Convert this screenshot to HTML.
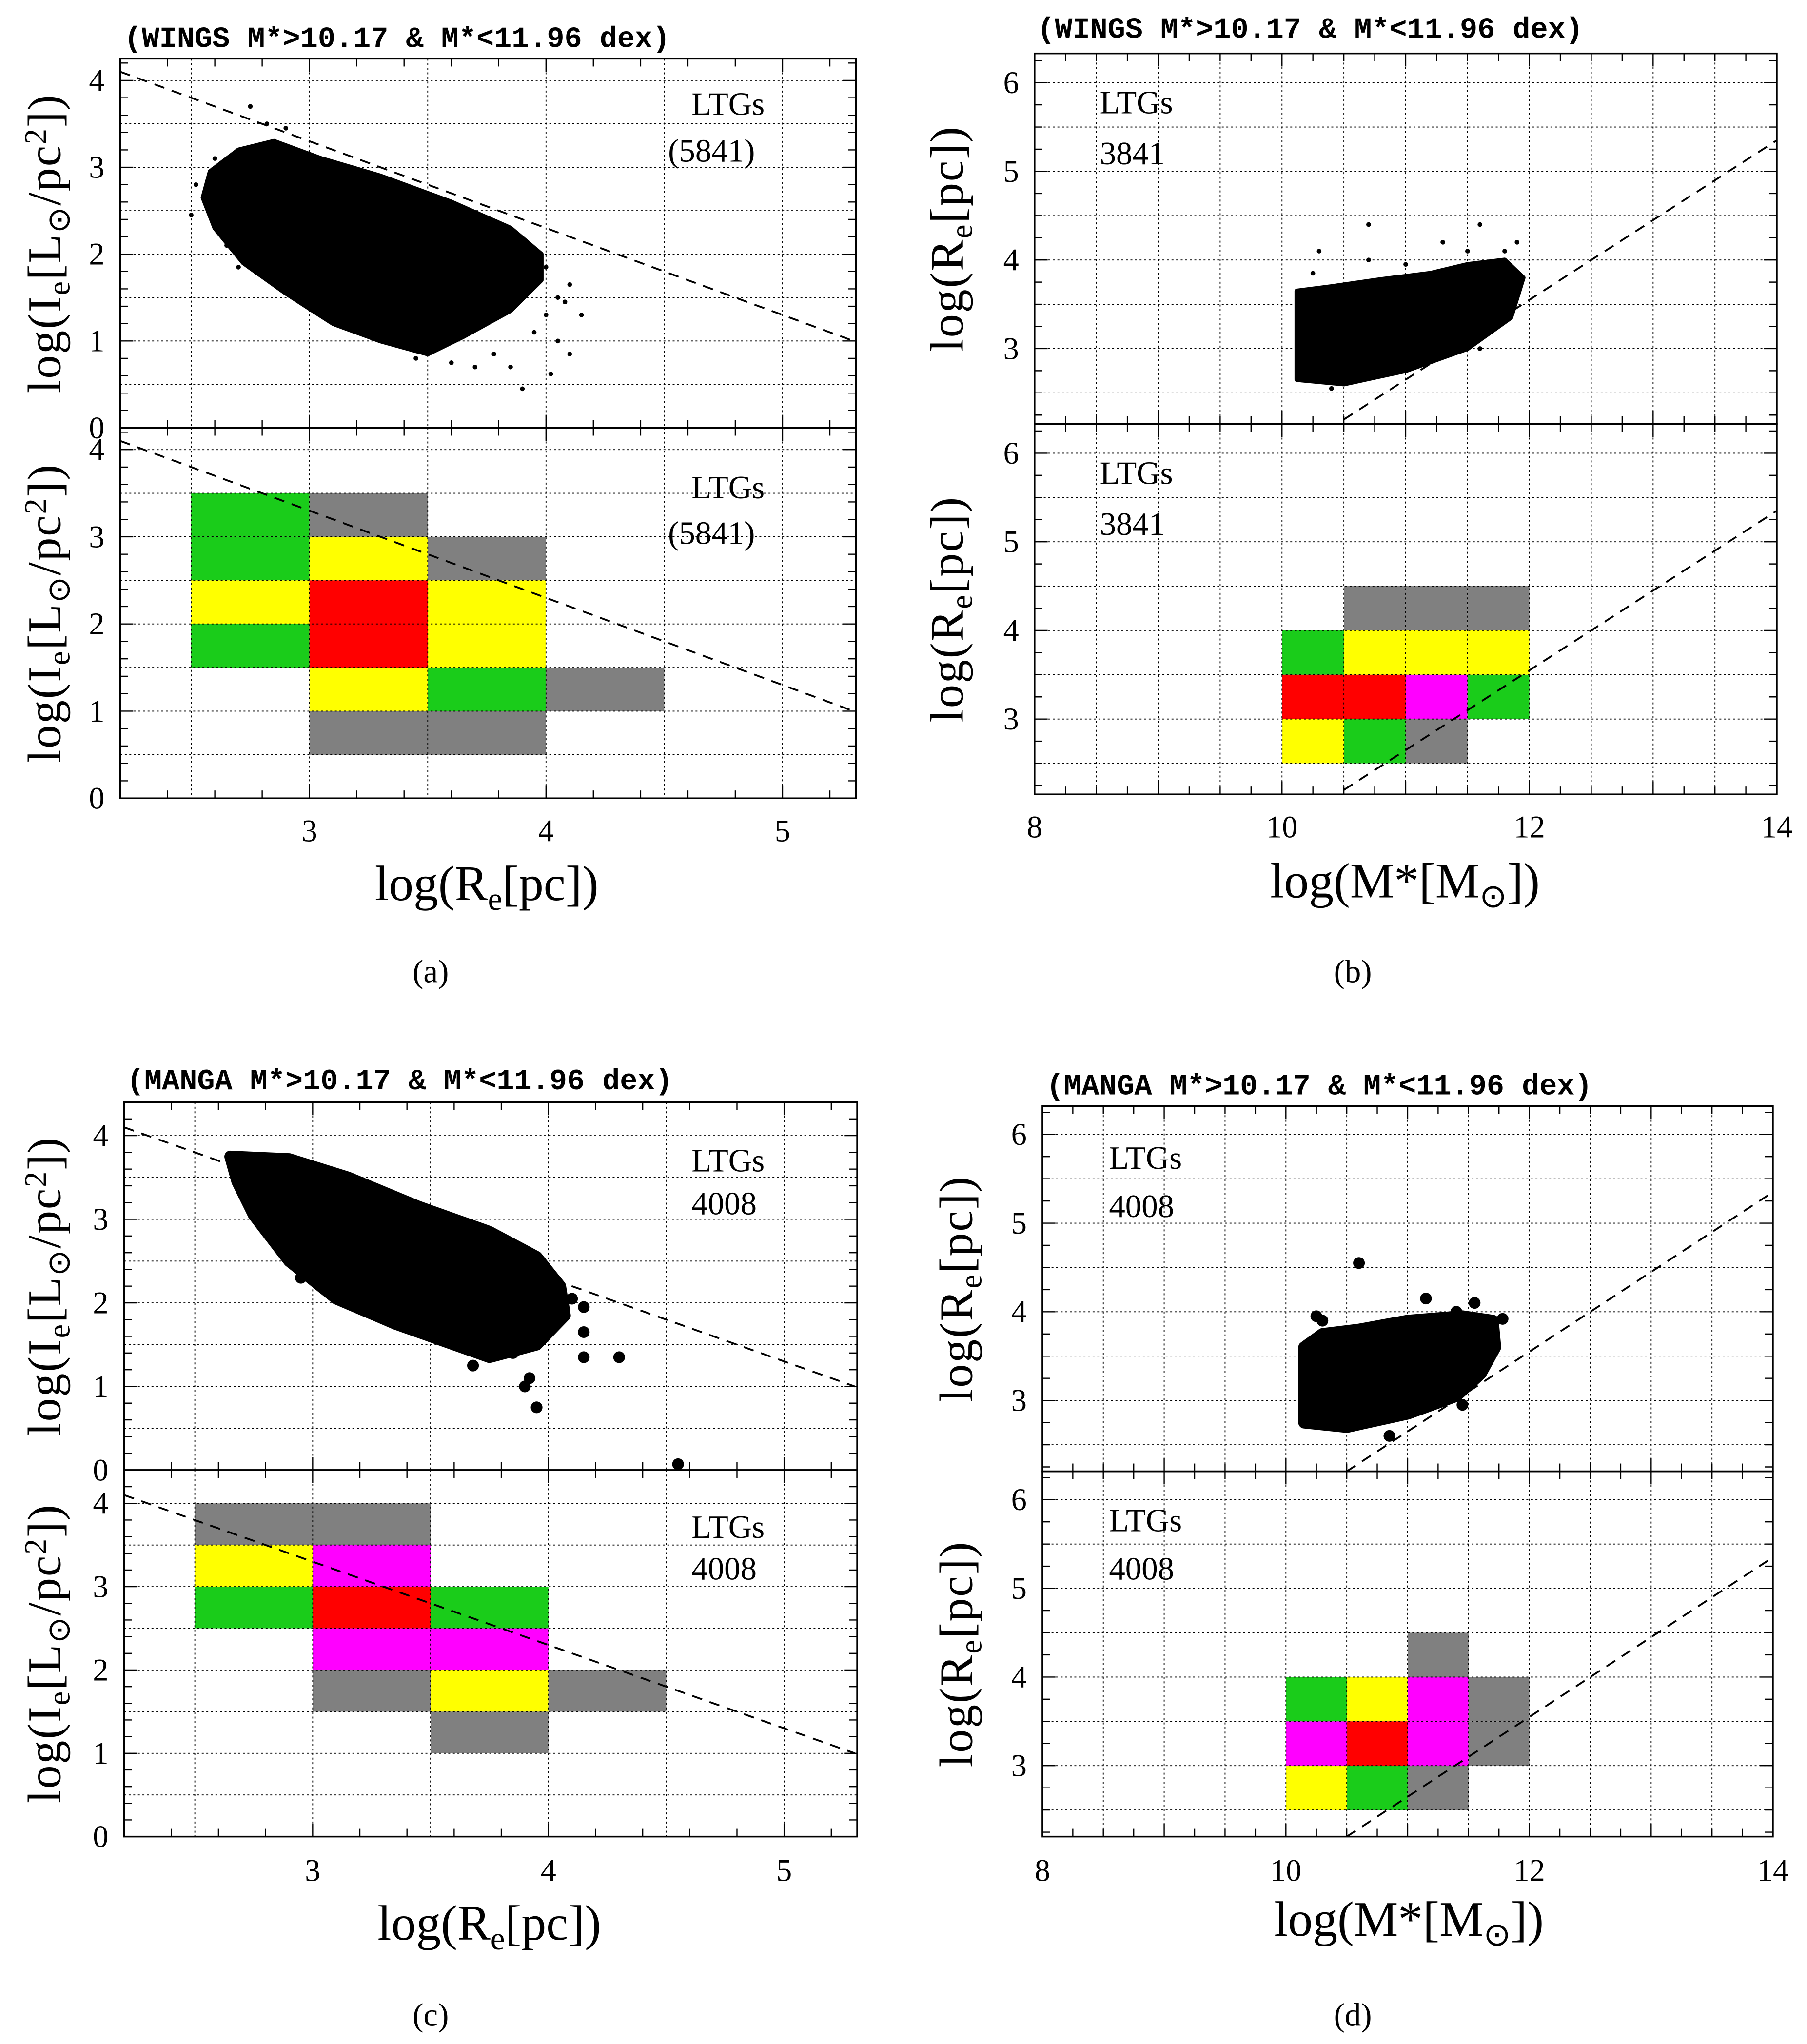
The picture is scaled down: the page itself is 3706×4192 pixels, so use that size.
<!DOCTYPE html>
<html><head><meta charset="utf-8"><style>
html,body{margin:0;padding:0;background:#fff;}
svg{display:block;}
text{font-family:"Liberation Serif",serif;fill:#000;}
.mono{font-family:"Liberation Mono",monospace;font-weight:bold;}
</style></head><body>
<svg id="fig" xmlns="http://www.w3.org/2000/svg" width="3706" height="4192" viewBox="0 0 1385 1567"></svg>
<script>
// ---------- data ----------
const binsA = [[2.5,3.0,'g'],[2.5,2.5,'g'],[2.5,2.0,'y'],[2.5,1.5,'g'],
  [3.0,3.0,'k'],[3.0,2.5,'y'],[3.0,2.0,'r'],[3.0,1.5,'r'],[3.0,1.0,'y'],[3.0,0.5,'k'],
  [3.5,2.5,'k'],[3.5,2.0,'y'],[3.5,1.5,'y'],[3.5,1.0,'g'],[3.5,0.5,'k'],[4.0,1.0,'k']];
const binsB = [[10.0,3.5,'g'],[10.0,3.0,'r'],[10.0,2.5,'y'],
  [10.5,4.0,'k'],[10.5,3.5,'y'],[10.5,3.0,'r'],[10.5,2.5,'g'],
  [11.0,4.0,'k'],[11.0,3.5,'y'],[11.0,3.0,'m'],[11.0,2.5,'k'],
  [11.5,4.0,'k'],[11.5,3.5,'y'],[11.5,3.0,'g']];
const binsC = [[2.5,3.5,'k'],[2.5,3.0,'y'],[2.5,2.5,'g'],
  [3.0,3.5,'k'],[3.0,3.0,'m'],[3.0,2.5,'r'],[3.0,2.0,'m'],[3.0,1.5,'k'],
  [3.5,2.5,'g'],[3.5,2.0,'m'],[3.5,1.5,'y'],[3.5,1.0,'k'],[4.0,1.5,'k']];
const binsD = [[10.0,3.5,'g'],[10.0,3.0,'m'],[10.0,2.5,'y'],
  [10.5,3.5,'y'],[10.5,3.0,'r'],[10.5,2.5,'g'],
  [11.0,4.0,'k'],[11.0,3.5,'m'],[11.0,3.0,'m'],[11.0,2.5,'k'],
  [11.5,3.5,'k'],[11.5,3.0,'k']];
const cloudA = [[2.58,2.95],[2.7,3.2],[2.85,3.3],[3.05,3.1],[3.3,2.9],[3.6,2.6],[3.85,2.3],[3.98,2.0],[3.98,1.7],[3.85,1.35],[3.65,1.05],[3.5,0.85],[3.3,1.0],[3.1,1.2],[2.9,1.55],[2.72,1.9],[2.6,2.3],[2.55,2.65]];
const outA = [[2.5,2.45],[2.52,2.8],[2.75,3.7],[2.82,3.5],[2.9,3.45],[4.1,1.65],[4.15,1.3],[4.05,1.0],[3.9,0.45],[4.1,0.85],[4.02,0.62],[3.85,0.7],[3.7,0.7],[4.0,1.3],[4.05,1.5],[3.95,1.1],[4.08,1.45],[3.78,0.85],[3.6,0.75],[3.45,0.8],[3.92,1.55],[4.0,1.85],[3.9,2.05],[3.7,2.35],[2.65,2.1],[2.7,1.85],[2.6,3.1],[2.62,2.55]];
const cloudB = [[10.12,2.65],[10.5,2.6],[11.0,2.75],[11.5,3.0],[11.85,3.35],[11.95,3.8],[11.8,4.0],[11.5,3.95],[11.2,3.85],[10.8,3.78],[10.4,3.7],[10.12,3.65]];
const outB = [[10.7,4.4],[11.6,4.4],[10.3,4.1],[10.7,4.0],[11.3,4.2],[11.9,4.2],[11.3,3.1],[10.8,2.7],[10.4,2.55],[11.5,4.1],[11.8,4.1],[10.25,3.85],[11.0,3.95],[11.6,3.0],[11.2,2.85]];
const cloudC = [[2.65,3.75],[2.9,3.72],[3.15,3.5],[3.45,3.15],[3.75,2.85],[3.95,2.55],[4.05,2.2],[4.07,1.85],[3.95,1.5],[3.75,1.35],[3.55,1.55],[3.35,1.75],[3.1,2.05],[2.9,2.5],[2.75,3.05],[2.68,3.45]];
const outC = [[4.3,1.35],[4.15,1.35],[4.15,1.65],[3.95,0.75],[3.92,1.1],[3.9,1.0],[4.55,0.07],[2.95,2.3],[3.22,1.95],[3.68,1.25],[3.78,2.8],[4.1,2.05],[4.15,1.95],[3.5,1.6],[3.85,1.4]];
const cloudD = [[10.15,2.75],[10.5,2.7],[11.0,2.85],[11.4,3.05],[11.6,3.3],[11.72,3.6],[11.7,3.9],[11.45,3.95],[11.0,3.9],[10.6,3.8],[10.3,3.75],[10.15,3.6]];
const outD = [[10.6,4.55],[10.85,2.6],[11.15,4.15],[11.55,4.1],[11.78,3.92],[10.25,3.95],[11.65,3.65],[11.45,2.95],[10.3,3.9],[11.4,4.0]];
const lineIe = [[2.2,4.1],[5.3,1.0]];
const lineRe = [[10.5,2.2],[14.0,5.35]];
const xTicksR = [3,4,5];
const xTicksM = [8,10,12,14];
const yTicksI = [0,1,2,3,4];
const yTicksR = [3,4,5,6];

const COL = {g:'#1acc1a',y:'#ffff00',r:'#ff0000',k:'#808080',m:'#ff00ff'};
const svg = document.getElementById('fig');
const NS = 'http://www.w3.org/2000/svg';
function mk(tag, attrs, parent){const e=document.createElementNS(NS,tag);for(const k in attrs)e.setAttribute(k,attrs[k]);(parent||svg).appendChild(e);return e;}

function axis(p){
  return {X:v=>p.l+(v-p.x0)/(p.x1-p.x0)*(p.r-p.l), Y:v=>p.b-(v-p.y0)/(p.y1-p.y0)*(p.b-p.t)};
}
function sub(p, name, opt){
  const g = mk('g',{});
  
  
  const A = axis(p);
  const clip = 'c'+name;
  const cp = mk('clipPath',{id:clip},g); mk('rect',{x:p.l,y:p.t,width:p.r-p.l,height:p.b-p.t},cp);
  const inner = mk('g',{'clip-path':'url(#'+clip+')'},g);
  if(opt.bins) opt.bins.forEach(b=>{
    const r = mk('rect',{x:A.X(b[0]),y:A.Y(b[1]+0.5),width:A.X(b[0]+0.5)-A.X(b[0]),height:A.Y(b[1])-A.Y(b[1]+0.5),fill:COL[b[2]]},inner);
    
    
  });
  for(let v=Math.ceil(p.x0*2)/2; v<p.x1; v+=0.5){ if(v<=p.x0)continue;
    mk('line',{x1:A.X(v),x2:A.X(v),y1:p.t,y2:p.b,stroke:'#000','stroke-width':0.7,'stroke-dasharray':'1.5,2'},inner);}
  for(let v=Math.ceil(p.y0*2)/2; v<p.y1; v+=0.5){ if(v<=p.y0+0.01)continue;
    mk('line',{x1:p.l,x2:p.r,y1:A.Y(v),y2:A.Y(v),stroke:'#000','stroke-width':0.7,'stroke-dasharray':'1.5,2'},inner);}
  const xs = opt.xstep, ys = opt.ystep;
  for(let v=Math.ceil(p.x0/xs)*xs; v<p.x1; v+=xs){
    const maj = Math.abs(v-Math.round(v))<1e-6, L = maj?10:6;
    mk('line',{x1:A.X(v),x2:A.X(v),y1:p.b,y2:p.b-L,stroke:'#000','stroke-width':0.9},g);
    mk('line',{x1:A.X(v),x2:A.X(v),y1:p.t,y2:p.t+L,stroke:'#000','stroke-width':0.9},g);
  }
  for(let v=Math.ceil(p.y0/ys)*ys; v<p.y1; v+=ys){
    const maj = Math.abs(v-Math.round(v))<1e-6, L = maj?10:6;
    mk('line',{x1:p.l,x2:p.l+L,y1:A.Y(v),y2:A.Y(v),stroke:'#000','stroke-width':0.9},g);
    mk('line',{x1:p.r,x2:p.r-L,y1:A.Y(v),y2:A.Y(v),stroke:'#000','stroke-width':0.9},g);
  }
  if(opt.cloud){
    const pts = opt.cloud.map(q=>A.X(q[0])+','+A.Y(q[1])).join(' ');
    const pg = mk('polygon',{points:pts,fill:'#000',stroke:'#000','stroke-width':opt.r*2,'stroke-linejoin':'round'},inner);
    
    
    opt.out.forEach(q=>{
      const c = mk('circle',{cx:A.X(q[0]),cy:A.Y(q[1]),r:opt.r,fill:'#000'},inner);
      
      
    });
  }
  const dl = mk('line',{x1:A.X(opt.line[0][0]),y1:A.Y(opt.line[0][1]),x2:A.X(opt.line[1][0]),y2:A.Y(opt.line[1][1]),stroke:'#000','stroke-width':1.4,'stroke-dasharray':'8,6'},inner);
  
  
  mk('rect',{x:p.l,y:p.t,width:p.r-p.l,height:p.b-p.t,fill:'none',stroke:'#000','stroke-width':1.3},g);
  opt.yt.forEach(v=>{
    const t = mk('text',{x:p.l-12,y:A.Y(v)+8,'font-size':24,'text-anchor':'end'},g);
    t.textContent = v;
    
    
  });
  opt.labels.forEach(L=>{
    const t = mk('text',{x:L[0],y:L[1],'font-size':25},g);
    t.textContent = L[2];
    
    
  });
  const yt = mk('text',{transform:'translate('+opt.ytx+','+((p.t+p.b)/2)+') rotate(-90)','font-size':36,'text-anchor':'middle','letter-spacing':'1'},g);
  yt.innerHTML = opt.ytitle;
  
  
  return A;
}
function xlabels(A, ticks, y){
  ticks.forEach(v=>{
    const t = mk('text',{x:A.X(v),y:y,'font-size':24,'text-anchor':'middle'});
    t.textContent = v;
    
    
  });
}
function txt(x,y,s,size,name,anchor,html,cls){
  const t = mk('text',{x:x,y:y,'font-size':size,'text-anchor':anchor||'start'});
  if(cls) t.setAttribute('class',cls);
  if(html) t.innerHTML=s; else t.textContent=s;
  
  
  return t;
}
const IEY = 'log(I<tspan baseline-shift="-30%" font-size="24">e</tspan>[L<tspan baseline-shift="-30%" font-size="24">⊙</tspan>/pc<tspan baseline-shift="45%" font-size="24">2</tspan>])';
const REY = 'log(R<tspan baseline-shift="-30%" font-size="24">e</tspan>[pc])';
const REX = 'log(R<tspan baseline-shift="-30%" font-size="25">e</tspan>[pc])';
const MX = 'log(M*[M<tspan baseline-shift="-30%" font-size="25">⊙</tspan>])';

const pa1={l:92,r:656,t:45,b:328,x0:2.2,x1:5.31,y0:0,y1:4.25};
const pa2={l:92,r:656,t:328,b:612,x0:2.2,x1:5.31,y0:0,y1:4.25};
sub(pa1,'panel-a-scatter',{xstep:0.2,ystep:0.2,cloud:cloudA,out:outA,r:1.8,line:lineIe,yt:yTicksI,ytx:46,ytitle:IEY,labels:[[530,88,'LTGs'],[512,124,'(5841)']]});
const Aa=sub(pa2,'panel-a-bins',{xstep:0.2,ystep:0.2,bins:binsA,line:lineIe,yt:yTicksI,ytx:46,ytitle:IEY,labels:[[530,382,'LTGs'],[512,417,'(5841)']]});
xlabels(Aa,xTicksR,645);
txt(373,690,REX,38,'x-axis-title','middle',true);
txt(95,36,'(WINGS M*&gt;10.17 &amp; M*&lt;11.96 dex)',22.5,'panel-a-title','start',true,'mono');
txt(330,753,'(a)',25,'caption-a','middle');

const pb1={l:793,r:1362,t:41,b:325,x0:8,x1:14,y0:2.15,y1:6.33};
const pb2={l:793,r:1362,t:325,b:609,x0:8,x1:14,y0:2.15,y1:6.33};
sub(pb1,'panel-b-scatter',{xstep:0.25,ystep:0.25,cloud:cloudB,out:outB,r:1.8,line:lineRe,yt:yTicksR,ytx:738,ytitle:REY,labels:[[843,87,'LTGs'],[843,126,'3841']]});
const Ab=sub(pb2,'panel-b-bins',{xstep:0.25,ystep:0.25,bins:binsB,line:lineRe,yt:yTicksR,ytx:738,ytitle:REY,labels:[[843,371,'LTGs'],[843,410,'3841']]});
xlabels(Ab,xTicksM,642);
txt(1077,688,MX,38,'x-axis-title','middle',true);
txt(795,29,'(WINGS M*&gt;10.17 &amp; M*&lt;11.96 dex)',22.5,'panel-b-title','start',true,'mono');
txt(1037,753,'(b)',25,'caption-b','middle');

const pc1={l:95,r:657,t:845,b:1127,x0:2.2,x1:5.31,y0:0,y1:4.4};
const pc2={l:95,r:657,t:1127,b:1408,x0:2.2,x1:5.31,y0:0,y1:4.4};
sub(pc1,'panel-c-scatter',{xstep:0.2,ystep:0.2,cloud:cloudC,out:outC,r:4.5,line:lineIe,yt:yTicksI,ytx:46,ytitle:IEY,labels:[[530,898,'LTGs'],[530,931,'4008']]});
const Ac=sub(pc2,'panel-c-bins',{xstep:0.2,ystep:0.2,bins:binsC,line:lineIe,yt:yTicksI,ytx:46,ytitle:IEY,labels:[[530,1179,'LTGs'],[530,1211,'4008']]});
xlabels(Ac,xTicksR,1442);
txt(375,1487,REX,38,'x-axis-title','middle',true);
txt(97,835,'(MANGA M*&gt;10.17 &amp; M*&lt;11.96 dex)',22.5,'panel-c-title','start',true,'mono');
txt(330,1553,'(c)',25,'caption-c','middle');

const pd1={l:799,r:1359,t:848,b:1128,x0:8,x1:14,y0:2.2,y1:6.32};
const pd2={l:799,r:1359,t:1128,b:1408,x0:8,x1:14,y0:2.2,y1:6.32};
sub(pd1,'panel-d-scatter',{xstep:0.25,ystep:0.25,cloud:cloudD,out:outD,r:4.5,line:lineRe,yt:yTicksR,ytx:745,ytitle:REY,labels:[[850,896,'LTGs'],[850,933,'4008']]});
const Ad=sub(pd2,'panel-d-bins',{xstep:0.25,ystep:0.25,bins:binsD,line:lineRe,yt:yTicksR,ytx:745,ytitle:REY,labels:[[850,1174,'LTGs'],[850,1211,'4008']]});
xlabels(Ad,xTicksM,1442);
txt(1080,1484,MX,38,'x-axis-title','middle',true);
txt(802,839,'(MANGA M*&gt;10.17 &amp; M*&lt;11.96 dex)',22.5,'panel-d-title','start',true,'mono');
txt(1037,1553,'(d)',25,'caption-d','middle');
</script>
</body></html>
